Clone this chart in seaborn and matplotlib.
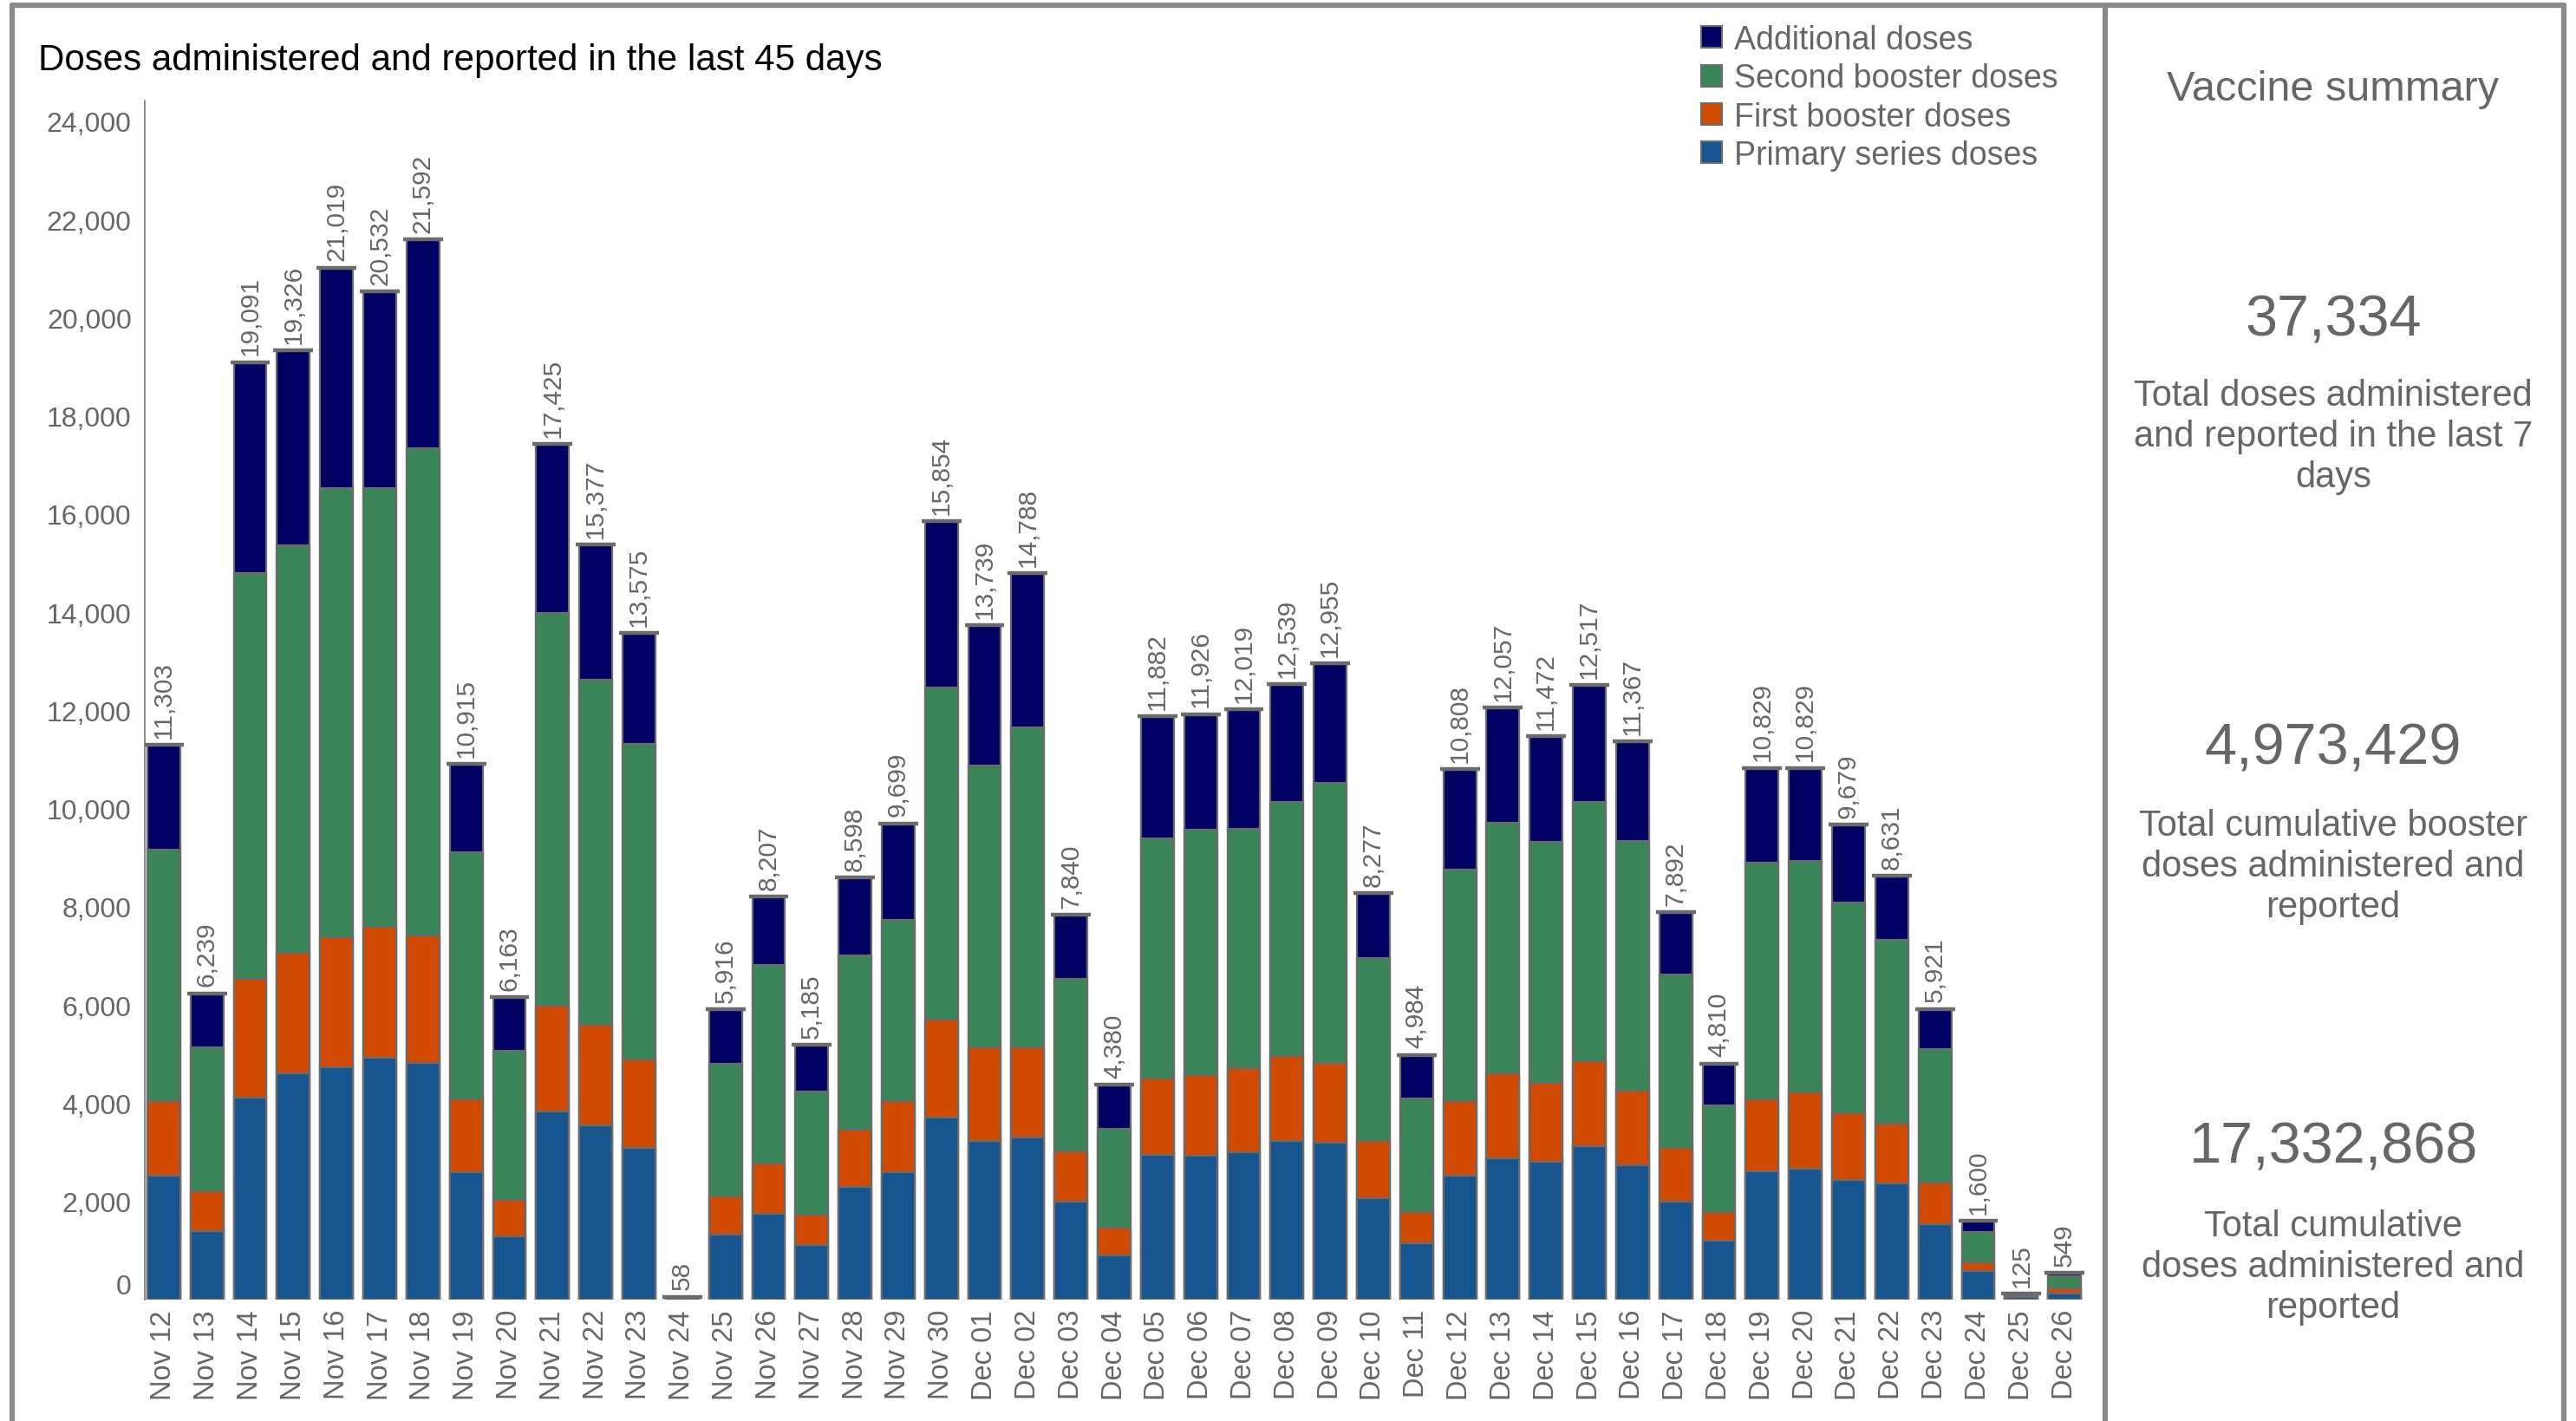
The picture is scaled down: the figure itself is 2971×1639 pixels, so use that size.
import numpy as np
import pandas as pd
import matplotlib
matplotlib.use("Agg")
import matplotlib.pyplot as plt
from matplotlib.patches import Patch
from matplotlib.lines import Line2D
import seaborn as sns

# ---------------- data ----------------
dates = (["Nov %d" % d for d in range(12, 31)] +
         ["Dec %02d" % d for d in range(1, 27)])

primary = [2530, 1395, 4119, 4611, 4734, 4929, 4828, 2602, 1286, 3838, 3556, 3093, 25,
           1323, 1749, 1113, 2291, 2602, 3700, 3238, 3310, 1995, 903, 2949, 2927, 2999,
           3238, 3202, 2074, 1149, 2530, 2884, 2811, 3122, 2739, 2002, 1192, 2616, 2674,
           2436, 2363, 1539, 578, 60, 123]
first_booster = [1517, 809, 2407, 2450, 2638, 2659, 2580, 1481, 745, 2153, 2045, 1800, 8,
                 773, 1019, 621, 1178, 1445, 2009, 1908, 1836, 1026, 564, 1553, 1640, 1720,
                 1727, 1618, 1157, 636, 1517, 1727, 1597, 1742, 1510, 1091, 600, 1467, 1554,
                 1358, 1229, 839, 181, 10, 108]
second_booster = [5124, 2927, 8268, 8303, 9158, 8942, 9934, 5024, 3028, 7990, 7031, 6432, 15,
                  2703, 4054, 2508, 3534, 3683, 6754, 5733, 6504, 3519, 2016, 4888, 5005, 4876,
                  5166, 5700, 3729, 2313, 4712, 5097, 4911, 5267, 5099, 3520, 2168, 4818, 4703,
                  4300, 3729, 2717, 614, 35, 239]
totals = [11303, 6239, 19091, 19326, 21019, 20532, 21592, 10915, 6163, 17425, 15377, 13575, 58,
          5916, 8207, 5185, 8598, 9699, 15854, 13739, 14788, 7840, 4380, 11882, 11926, 12019,
          12539, 12955, 8277, 4984, 10808, 12057, 11472, 12517, 11367, 7892, 4810, 10829, 10829,
          9679, 8631, 5921, 1600, 125, 549]
additional = [t - p - f - s for t, p, f, s in zip(totals, primary, first_booster, second_booster)]

series_names = ["Additional doses", "Second booster doses", "First booster doses", "Primary series doses"]
series_colors = ["#000062", "#3A8558", "#D04A02", "#16558F"]

summary_title = "Vaccine summary"
summary_values = ["37,334", "4,973,429", "17,332,868"]
summary_labels = ["Total doses administered\nand reported in the last 7\ndays",
                  "Total cumulative booster\ndoses administered and\nreported",
                  "Total cumulative\ndoses administered and\nreported"]
title = "Doses administered and reported in the last 45 days"

yticks = list(range(0, 24001, 2000))

# ---------------- style ----------------
sns.set_style("white")
plt.rcParams["font.family"] = ["Liberation Sans", "DejaVu Sans"]
GREY = "#666666"
EDGE = "#6b6b6b"

W, H = 2971, 1640
fig = plt.figure(figsize=(W / 100, H / 100), dpi=100)
fig.patch.set_facecolor("white")

ax = fig.add_axes([167 / W, 1 - 1500 / H, (2410 - 167) / W, (1500 - 117) / H])

df = pd.DataFrame({"date": dates,
                   "primary": primary,
                   "first": first_booster,
                   "second": second_booster,
                   "additional": additional})
df["c1"] = df["primary"]
df["c2"] = df["c1"] + df["first"]
df["c3"] = df["c2"] + df["second"]
df["c4"] = df["c3"] + df["additional"]

# draw cumulative bars from tallest to shortest so they stack visually
for col, color in zip(["c4", "c3", "c2", "c1"], series_colors):
    sns.barplot(data=df, x="date", y=col, color=color, saturation=1, width=0.76,
                edgecolor=EDGE, linewidth=1.6, errorbar=None, ax=ax, order=dates)

xs = np.arange(len(dates))
ax.hlines(totals, xs - 0.46, xs + 0.46, colors=EDGE, linewidth=3.2, zorder=5)
for x, t in zip(xs, totals):
    ax.annotate(f"{t:,}", (x, t), xytext=(0, 6), textcoords="offset points",
                rotation=90, ha="center", va="bottom", fontsize=21.5, color=GREY)

ax.set_xlim(-0.44, 44.58)
ax.set_ylim(0, 24420)
ax.set_yticks(yticks)
ax.set_yticklabels([f"{v:,}" for v in yticks])
ax.set_xlabel("")
ax.set_ylabel("")
ax.tick_params(axis="y", length=0, pad=11, labelsize=23, labelcolor=GREY)
ax.tick_params(axis="x", length=0, pad=8, labelsize=23.5, labelcolor=GREY, rotation=90)
ax.get_yticklabels()[0].set_va("bottom")
for s in ["top", "right", "bottom"]:
    ax.spines[s].set_visible(False)
ax.spines["left"].set_color("#777777")
ax.spines["left"].set_linewidth(1.2)
ax.grid(False)

handles = [Patch(facecolor=c, edgecolor=EDGE, linewidth=1.5) for c in series_colors]
fig.legend(handles, series_names, loc="upper left",
           bbox_to_anchor=(1962 / W, 1 - 29 / H), frameon=False,
           fontsize=27, labelcolor=GREY, handlelength=0.65, handleheight=0.65,
           handletextpad=0.35, labelspacing=0.22, borderaxespad=0, borderpad=0)

fig.text(44 / W, 1 - 70 / H, title, ha="left", va="center", fontsize=30.3, color="black")

cx = 2691 / W
fig.text(cx, 1 - 104 / H, summary_title, ha="center", va="center", fontsize=35, color=GREY)
val_y = [370, 865, 1325]
lab_y = [504, 1000, 1462]
for v, l, vy, ly in zip(summary_values, summary_labels, val_y, lab_y):
    fig.text(cx, 1 - vy / H, v, ha="center", va="center", fontsize=48, color=GREY)
    fig.text(cx, 1 - ly / H, l, ha="center", va="center", fontsize=30, color=GREY,
             linespacing=1.24)

# panel borders
bc = "#8a8a8a"
blw = 4.5
fig.add_artist(Line2D([14 / W, 2957 / W], [1 - 7 / H, 1 - 7 / H], transform=fig.transFigure,
                      color=bc, lw=blw))
for xp in [14, 2428, 2957]:
    fig.add_artist(Line2D([xp / W, xp / W], [0, 1 - 7 / H], transform=fig.transFigure,
                          color=bc, lw=blw))

fig.savefig("out.png", dpi=100, facecolor="white")
